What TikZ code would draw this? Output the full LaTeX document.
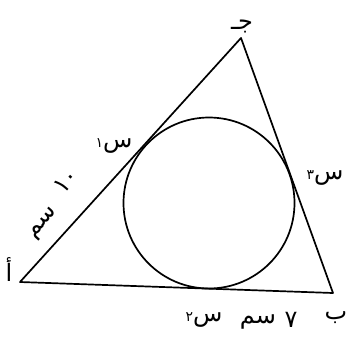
\documentclass[tikz,border=0pt]{standalone}
\usepackage{fontspec}
\newfontfamily\arabicfont[Script=Arabic]{DejaVu Sans}
\TeXXeTstate=1
\begin{document}
\begin{tikzpicture}[x=1pt,y=-1pt,
  edge/.style={line width=1.7pt, line join=round},
  lbl/.style={font=\arabicfont\fontsize{24}{24}\selectfont, inner sep=0pt}]
\useasboundingbox (0,0) rectangle (350,341);
\coordinate (A) at (20,282);
\coordinate (B) at (333,293);
\coordinate (C) at (241,38);
\coordinate (O) at (209,203);
\draw[edge] (A) -- (B) -- (C) -- cycle;
\draw[line width=1.7pt] (O) circle[radius=85.5];
\node[lbl] (lc) at (242,26) {\beginR جـ\endR};
\node[lbl] (la) at (9,270) {\beginR أ\endR};
\node[lbl] (lb) at (336,318) {\beginR ب\endR};
\node[lbl] (ls1) at (114,146) {\beginR س{\fontsize{14}{14}\selectfont ١}\endR};
\node[lbl] (ls3) at (325,178) {\beginR س{\fontsize{14}{14}\selectfont ٣}\endR};
\node[lbl] (ls2) at (204,320) {\beginR س{\fontsize{14}{14}\selectfont ٢}\endR};
\node[lbl] (l7n) at (291,320) {٧};
\node[lbl] (l7u) at (258,322) {\beginR سم\endR};
\node[lbl, rotate=48] (l10n) at (66,181) {\beginL ١٠\endL};
\node[lbl, rotate=48] (l10u) at (44,224) {\beginR سم\endR};
\end{tikzpicture}
\end{document}
